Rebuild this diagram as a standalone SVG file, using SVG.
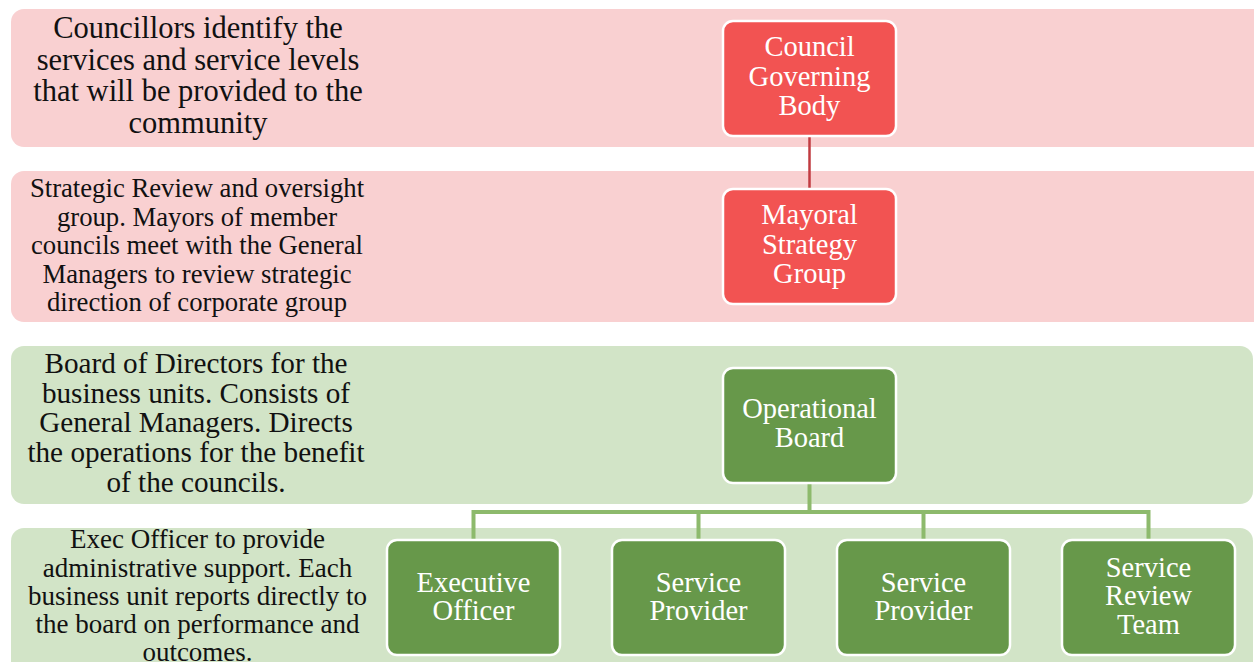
<svg xmlns="http://www.w3.org/2000/svg" width="1254" height="662" viewBox="0 0 1254 662">
<style>
.band-r{fill:#F9D0D1;}
.band-g{fill:#D2E4C7;}
.node-r{fill:#F25352;stroke:#FFFFFF;stroke-width:2.5;}
.node-g{fill:#67984A;stroke:#FFFFFF;stroke-width:2.5;}
.desc{font-family:"Liberation Serif","Times New Roman",serif;fill:#111111;text-anchor:middle;}
.lbl{font-family:"Liberation Serif","Times New Roman",serif;fill:#FFFFFF;text-anchor:middle;font-size:28.5px;}
.conn-r{fill:none;stroke:#C13B41;stroke-width:2.5;}
.conn-g{fill:none;stroke:#8DBA6C;stroke-width:4;}
</style>
<rect width="1254" height="662" fill="#FFFFFF"/>
<g id="band1">
<rect class="band-r" x="11" y="9" width="1255" height="138" rx="13"/>
<text class="desc" font-size="30.5" x="198"><tspan x="198" y="38">Councillors identify the</tspan><tspan x="198" y="70">services and service levels</tspan><tspan x="198" y="101">that will be provided to the</tspan><tspan x="198" y="133">community</tspan></text>
</g>
<g id="band2">
<rect class="band-r" x="11" y="171" width="1255" height="151" rx="13"/>
<text class="desc" font-size="26.7" x="197"><tspan x="197" y="197">Strategic Review and oversight</tspan><tspan x="197" y="225.5">group. Mayors of member</tspan><tspan x="197" y="254">councils meet with the General</tspan><tspan x="197" y="282.5">Managers to review strategic</tspan><tspan x="197" y="311">direction of corporate group</tspan></text>
</g>
<g id="band3">
<rect class="band-g" x="11" y="346" width="1242" height="158" rx="13"/>
<text class="desc" font-size="29.2" x="196"><tspan x="196" y="373">Board of Directors for the</tspan><tspan x="196" y="403">business units. Consists of</tspan><tspan x="196" y="432">General Managers. Directs</tspan><tspan x="196" y="462">the operations for the benefit</tspan><tspan x="196" y="492">of the councils.</tspan></text>
</g>
<g id="band4">
<rect class="band-g" x="11" y="528" width="1242" height="160" rx="13"/>
<text class="desc" font-size="27" x="197.5"><tspan x="197.5" y="548">Exec Officer to provide</tspan><tspan x="197.5" y="576.5">administrative support. Each</tspan><tspan x="197.5" y="605">business unit reports directly to</tspan><tspan x="197.5" y="633">the board on performance and</tspan><tspan x="197.5" y="661">outcomes.</tspan></text>
</g>
<g id="connectors">
<path class="conn-r" d="M809.5 136 V188"/>
<path class="conn-g" d="M473.5 540 V512 H1148.5 V540 M809.5 483 V512 M698.5 512 V540 M923.5 512 V540"/>
</g>
<g id="council-governing-body">
<rect class="node-r" x="723" y="21" width="173" height="115" rx="10"/>
<text class="lbl"><tspan x="809.5" y="56">Council</tspan><tspan x="809.5" y="86">Governing</tspan><tspan x="809.5" y="115">Body</tspan></text>
</g>
<g id="mayoral-strategy-group">
<rect class="node-r" x="723" y="189" width="173" height="115" rx="10"/>
<text class="lbl"><tspan x="809.5" y="224">Mayoral</tspan><tspan x="809.5" y="254">Strategy</tspan><tspan x="809.5" y="283">Group</tspan></text>
</g>
<g id="operational-board">
<rect class="node-g" x="723" y="368" width="173" height="115" rx="10"/>
<text class="lbl"><tspan x="809.5" y="418">Operational</tspan><tspan x="809.5" y="447">Board</tspan></text>
</g>
<g id="executive-officer">
<rect class="node-g" x="387" y="540" width="173" height="115" rx="10"/>
<text class="lbl"><tspan x="473.5" y="592">Executive</tspan><tspan x="473.5" y="620">Officer</tspan></text>
</g>
<g id="service-provider-1">
<rect class="node-g" x="612" y="540" width="173" height="115" rx="10"/>
<text class="lbl"><tspan x="698.5" y="592">Service</tspan><tspan x="698.5" y="620">Provider</tspan></text>
</g>
<g id="service-provider-2">
<rect class="node-g" x="837" y="540" width="173" height="115" rx="10"/>
<text class="lbl"><tspan x="923.5" y="592">Service</tspan><tspan x="923.5" y="620">Provider</tspan></text>
</g>
<g id="service-review-team">
<rect class="node-g" x="1062" y="540" width="173" height="115" rx="10"/>
<text class="lbl"><tspan x="1148.5" y="577">Service</tspan><tspan x="1148.5" y="605">Review</tspan><tspan x="1148.5" y="634">Team</tspan></text>
</g>
</svg>
